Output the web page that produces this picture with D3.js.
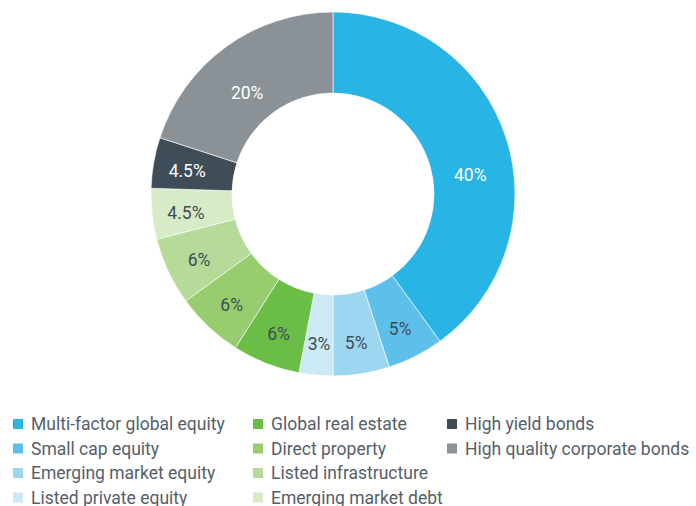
<!DOCTYPE html>
<html>
<head>
<meta charset="utf-8">
<script src="https://cdn.jsdelivr.net/npm/d3@7"></script>
<style>
  html, body { margin: 0; padding: 0; background: #fff; }
  svg { display: block; }
</style>
</head>
<body>
<svg id="chart" width="696" height="506"></svg>
<script>
// ------------------------------- DATA ----------------------------------------------

const categories = [
  'Multi-factor global equity',
  'Small cap equity',
  'Emerging market equity',
  'Listed private equity',
  'Global real estate',
  'Direct property',
  'Listed infrastructure',
  'Emerging market debt',
  'High yield bonds',
  'High quality corporate bonds'
];
const values = [40, 5, 5, 3, 6, 6, 6, 4.5, 4.5, 20];
const labels = ['40%', '5%', '5%', '3%', '6%', '6%', '6%', '4.5%', '4.5%', '20%'];
const colors = [
  '#29b4e6', '#5ec0ea', '#9dd6f1', '#cce9f7',
  '#6abd45', '#97cc6f', '#b6da98', '#d8ebc7',
  '#3e4d58', '#8b9297'
];

// legend columns: which categories go in which column
const legendColumns = [[0, 1, 2, 3], [4, 5, 6, 7], [8, 9]];

// ------------------------------- DONUT ----------------------------------------------

const svg = d3.select('#chart');
const cx = 333;
const cy = 194;
const outerR = 182;
const innerR = 101;
const labelR = 148;

const pie = d3.pie().sort(null).value((d) => d.value);
const arc = d3.arc().innerRadius(innerR).outerRadius(outerR);

const slices = pie(values.map((v, i) => ({ value: v, label: labels[i], color: colors[i] })));

const g = svg.append('g').attr('transform', `translate(${cx},${cy})`);

g.selectAll('path')
  .data(slices)
  .join('path')
  .attr('d', arc)
  .attr('fill', (d) => d.data.color)
  .attr('stroke', '#fff')
  .attr('stroke-width', 0.6);

// the two big slices have their labels pulled in a bit (radius, extra degrees)
const labelNudge = { 0: { r: 139, da: 9 }, 9: { r: 135, da: -3.5 } };

function labelPos(d) {
  const n = labelNudge[d.index] || { r: labelR, da: 0 };
  const a = (d.startAngle + d.endAngle) / 2 + (n.da * Math.PI) / 180;
  return [Math.sin(a) * n.r, -Math.cos(a) * n.r];
}

// white text on the dark / strong slices, slate text on the pale ones
const whiteText = new Set([0, 8, 9]);

g.selectAll('text')
  .data(slices)
  .join('text')
  .attr('transform', (d) => `translate(${labelPos(d)})`)
  .attr('text-anchor', 'middle')
  .attr('dy', '0.5em')
  .attr('font-family', 'Roboto, sans-serif')
  .attr('font-size', 17.5)
  .attr('fill', (d) => (whiteText.has(d.index) ? '#fff' : '#3e4d58'))
  .text((d) => d.data.label);

// ------------------------------- LEGEND ----------------------------------------------

const colX = [13, 253, 447];
const rowY = d3.scaleLinear().domain([0, 1]).range([424, 448.5]);

const legend = svg.append('g');
legendColumns.forEach((col, c) => {
  col.forEach((idx, r) => {
    const item = legend.append('g').attr('transform', `translate(${colX[c]},${rowY(r)})`);
    item.append('rect')
      .attr('x', 0)
      .attr('y', -5)
      .attr('width', 10)
      .attr('height', 10)
      .attr('fill', colors[idx]);
    item.append('text')
      .attr('x', 18)
      .attr('dy', '0.35em')
      .attr('font-family', 'Roboto, sans-serif')
      .attr('font-size', 17.5)
      .attr('fill', '#55606a')
      .text(categories[idx]);
  });
});
</script>
</body>
</html>
